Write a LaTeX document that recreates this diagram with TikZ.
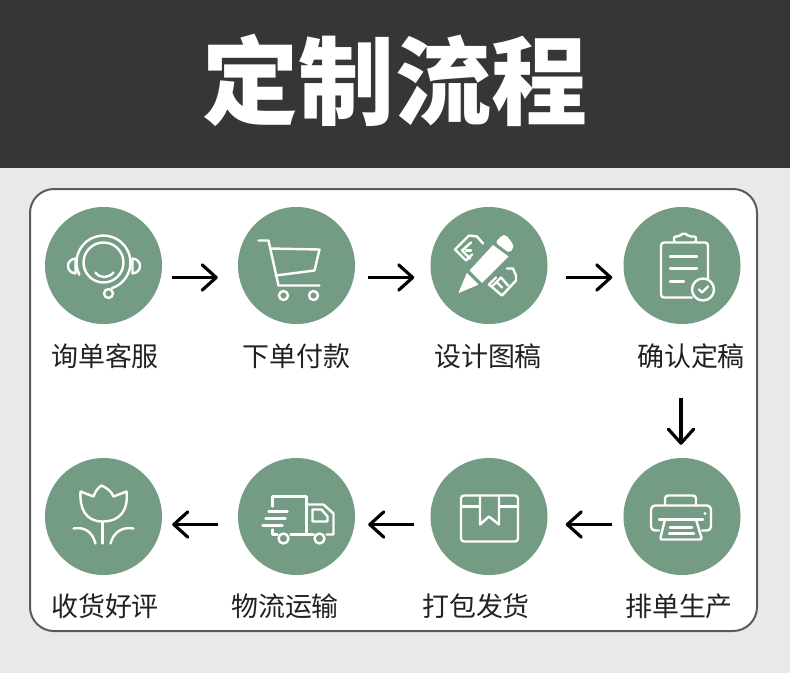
\documentclass[tikz,border=0pt]{standalone}
\usepackage{xcolor}
\usepackage{fontspec}
\usepackage{tikz}
\usetikzlibrary{arrows.meta, calc}
\setmainfont{Noto Sans CJK SC}
\definecolor{mydark}{RGB}{54,54,54}
\definecolor{mygrey}{RGB}{233,233,233}
\definecolor{myframe}{RGB}{90,90,90}
\definecolor{mygreen}{RGB}{116,155,132}
\definecolor{mytext}{RGB}{34,34,34}
\tikzset{
  stepcircle/.style={circle, fill=mygreen, minimum size=3.51cm, inner sep=0pt},
  steplabel/.style={font=\fontsize{23}{26}\selectfont, text=mytext, inner sep=0pt},
  arrow/.style={-{Straight Barb[round, length=0.42cm, width=0.76cm]}, line width=0.095cm, color=black},
  icon/.style={draw=white, line width=0.072cm, line join=round, line cap=round},
  iconfill/.style={fill=white, draw=white, line width=0.02cm, line join=round}
}
\begin{document}
\begin{tikzpicture}[x=0.03cm, y=-0.03cm]
\useasboundingbox (0,0) rectangle (790,673);
\fill[mygrey] (0,0) rectangle (790,673);
\fill[mydark] (0,0) rectangle (790,168);
\node[text=white, inner sep=0pt, font=\fontsize{82}{86}\selectfont\bfseries] (title) at (395,80) {定制流程};
\draw[fill=white, draw=myframe, line width=0.06cm, rounded corners=0.72cm] (30,189) rectangle (757,631);
% top row
\node[stepcircle] (c1) at (103.5,265.5) {};
\node[stepcircle] (c2) at (296.5,265.5) {};
\node[stepcircle] (c3) at (489,265.5) {};
\node[stepcircle] (c4) at (682,265.5) {};
\node[steplabel] (l1) at (105,356) {询单客服};
\node[steplabel] (l2) at (296.5,356) {下单付款};
\node[steplabel] (l3) at (488,356) {设计图稿};
\node[steplabel] (l4) at (691,356) {确认定稿};
% bottom row
\node[stepcircle] (c5) at (682,516.5) {};
\node[stepcircle] (c6) at (489,516.5) {};
\node[stepcircle] (c7) at (296.5,516.5) {};
\node[stepcircle] (c8) at (103.5,516.5) {};
\node[steplabel] (l5) at (679,606) {排单生产};
\node[steplabel] (l6) at (476,606) {打包发货};
\node[steplabel] (l7) at (285,606) {物流运输};
\node[steplabel] (l8) at (105,606) {收货好评};
% arrows
\draw[arrow, shorten <=0.3cm, shorten >=0.6cm] ([yshift=-0.36cm]c1.east) -- ([yshift=-0.36cm]c2.west);
\draw[arrow, shorten <=0.39cm, shorten >=0.48cm] ([yshift=-0.36cm]c2.east) -- ([yshift=-0.36cm]c3.west);
\draw[arrow, shorten <=0.54cm, shorten >=0.33cm] ([yshift=-0.36cm]c3.east) -- ([yshift=-0.36cm]c4.west);
\draw[arrow, shorten <=2.22cm, shorten >=0.39cm] ([xshift=-0.03cm]c4.south) -- ([xshift=-0.03cm]c5.north);
\draw[arrow, shorten <=0.33cm, shorten >=0.54cm] ([yshift=-0.24cm]c5.west) -- ([yshift=-0.24cm]c6.east);
\draw[arrow, shorten <=0.48cm, shorten >=0.39cm] ([yshift=-0.24cm]c6.west) -- ([yshift=-0.24cm]c7.east);
\draw[arrow, shorten <=0.6cm, shorten >=0.3cm] ([yshift=-0.24cm]c7.west) -- ([yshift=-0.24cm]c8.east);
% headset
\begin{scope}[shift={(c1.center)}]
\draw[icon] (0,-3) circle (20);
\draw[icon] (-24.1,9.3) arc[start angle=153, end angle=432, radius=27];
\draw[icon] (5,28) circle (4.5);
\draw[icon] (-28,-7) .. controls (-38,-6) and (-38,7) .. (-28,8) -- cycle;
\draw[icon] (29,-7) .. controls (39,-6) and (39,7) .. (29,8) -- cycle;
\draw[icon] (-8,7) .. controls (-4,13) and (5,13) .. (10,7);
\end{scope}
% cart
\begin{scope}[shift={(c2.center)}]
\draw[icon] (-38,-25) -- (-28,-25) -- (-18,20) -- (23,20);
\draw[icon] (-26,-17) -- (23,-16) -- (18,5) -- (-21,10);
\draw[icon] (-13,30) circle (4.5);
\draw[icon] (17,30) circle (4.5);
\end{scope}
% pencil and rulers
\begin{scope}[shift={(c3.center)}]
\fill[iconfill] (-30,27) -- (-22,8) -- (-11,19) -- cycle;
\fill[iconfill] (-19,5) -- (4,-20) -- (19,-9) -- (-7,17) -- cycle;
\fill[iconfill, rounded corners=0.06cm] (7,-23) -- (13,-30) -- (17,-30) -- (24,-21) -- (24,-17) -- (20,-13) -- cycle;
\draw[icon] (-6,-22) -- (-12,-29) -- (-20,-30) -- (-34,-16) -- (-23,-5) -- (-17,-11);
\draw[icon] (-18,-23) -- (-27,-15) -- (-19,-7);
\draw[icon] (-23,-15) -- (-18,-15);
\draw[icon] (18,3) -- (24,3) -- (27,10) -- (27,15) -- (13,30) -- (0,19) -- (7,12);
\draw[icon] (4,20) -- (12,12) -- (19,20);
\draw[icon] (8,17) -- (13,22);
\end{scope}
% clipboard
\begin{scope}[shift={(c4.center)}]
\draw[icon, rounded corners=0.09cm] (-8,-23) -- (-21,-23) -- (-21,32) -- (10,32);
\draw[icon, rounded corners=0.09cm] (14,-23) -- (26,-23) -- (26,13);
\draw[icon, rounded corners=0.06cm] (-8,-23) -- (-8,-29) -- (-3,-29) -- (2,-33) -- (7,-29) -- (14,-29) -- (14,-23) -- cycle;
\draw[icon] (-12,-9) -- (15,-9);
\draw[icon] (-12,3) -- (15,3);
\draw[icon] (-12,16) -- (2,16);
\draw[icon] (21,24) circle (11);
\draw[icon] (17,24) -- (20,27) -- (26,21);
\end{scope}
% printer
\begin{scope}[shift={(c5.center)}]
\draw[icon, rounded corners=0.09cm] (-17,-12) -- (-17,-21) -- (14,-21) -- (14,-12);
\draw[icon, rounded corners=0.12cm] (-23,14) -- (-31,14) -- (-31,-11) -- (29,-11) -- (29,14) -- (20,14);
\draw[icon] (-23,3) -- (21,3);
\draw[icon, rounded corners=0.06cm] (-17,3) -- (-22,23) -- (20,23) -- (14,3);
\draw[icon] (-12,11) -- (10,11);
\draw[icon] (-13,17) -- (12,17);
\fill[white] (23,-3) circle (1.7);
\end{scope}
% parcel
\begin{scope}[shift={(c6.center)}]
\draw[icon, rounded corners=0.09cm] (-28,-21) rectangle (29,25);
\draw[icon] (-28,-10) -- (-9,-10);
\draw[icon] (10,-10) -- (29,-10);
\draw[icon] (-9,-21) -- (-9,8) -- (0,0) -- (10,8) -- (10,-21);
\end{scope}
% truck
\begin{scope}[shift={(c7.center)}]
\draw[icon] (-24,-10) -- (-24,-20) -- (10,-20) -- (10,18);
\draw[icon] (-6,18) -- (17,18);
\draw[icon] (-24,13) -- (-24,18) -- (-19,18);
\draw[icon] (-28,-5) -- (-9,-5);
\draw[icon] (-31,2) -- (-11,2);
\draw[icon] (-34,9) -- (-14,9);
\draw[icon] (10,-12) -- (27,-12) -- (37,-3) -- (37,18) -- (30,18);
\draw[icon] (16,-7) -- (25,-7) -- (31,0) -- (31,5) -- (16,5) -- cycle;
\draw[icon] (-13,22) circle (5);
\draw[icon] (23,22) circle (5);
\end{scope}
% tulip
\begin{scope}[shift={(c8.center)}]
\draw[icon] (-23,-25) -- (-10,-20) .. controls (-8,-26) and (-5,-29) .. (-2,-31) .. controls (2,-29) and (8,-26) .. (10,-20) -- (23,-25) .. controls (25,-8) and (18,5) .. (-1,5) .. controls (-18,5) and (-24,-8) .. (-23,-25) -- cycle;
\draw[icon] (-1,5) -- (-1,27);
\draw[icon] (-30,12) .. controls (-18,10) and (-11,16) .. (-8,27);
\draw[icon] (30,12) .. controls (18,10) and (10,16) .. (7,27);
\end{scope}
\end{tikzpicture}
\end{document}
